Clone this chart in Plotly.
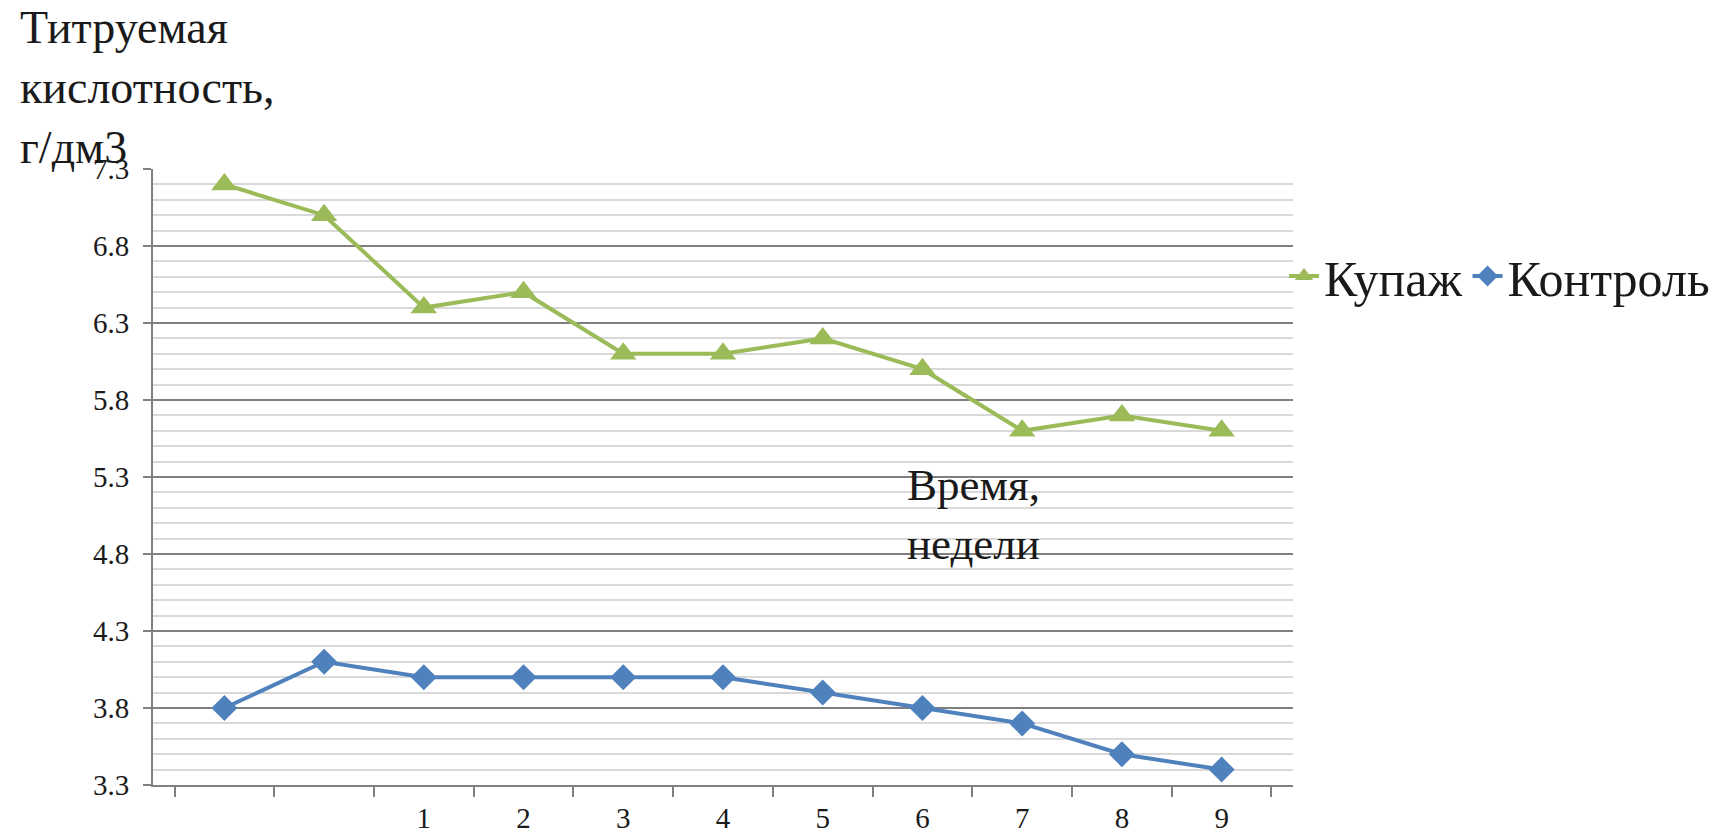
import plotly.graph_objects as go

categories = [" ", "  ", "1", "2", "3", "4", "5", "6", "7", "8", "9"]
kupazh = [7.2, 7.0, 6.4, 6.5, 6.1, 6.1, 6.2, 6.0, 5.6, 5.7, 5.6]
kontrol = [3.8, 4.1, 4.0, 4.0, 4.0, 4.0, 3.9, 3.8, 3.7, 3.5, 3.4]
y_ticks = [3.3, 3.8, 4.3, 4.8, 5.3, 5.8, 6.3, 6.8, 7.3]
y_title = "Титруемая<br>кислотность,<br>г/дм3"
x_title = "Время,<br>недели"

W, H = 1715, 834
L, R, T, B = 153, 1293, 169, 785

FONT = "Liberation Serif, Times New Roman, DejaVu Serif, serif"
GREEN = "#9BBB59"
BLUE = "#4F81BD"
TXT = "#1a1a1a"

fig = go.Figure()
fig.add_trace(go.Scatter(
    x=categories, y=kupazh, name="Купаж", mode="lines+markers",
    line=dict(color=GREEN, width=4),
    marker=dict(symbol="triangle-up", size=23, color=GREEN),
))
fig.add_trace(go.Scatter(
    x=categories, y=kontrol, name="Контроль", mode="lines+markers",
    line=dict(color=BLUE, width=4),
    marker=dict(symbol="diamond", size=20, color=BLUE),
))

def px_x(x):
    return (x - L) / (R - L)

def px_y(y):
    return (B - y) / (B - T)

fig.update_layout(
    template="none",
    width=W, height=H, autosize=False,
    margin=dict(l=L, r=W - R, t=T, b=H - B, pad=0, autoexpand=False),
    paper_bgcolor="white", plot_bgcolor="white",
    font=dict(family=FONT, color=TXT, size=29),
    showlegend=True,
    legend=dict(
        orientation="h", x=px_x(1284), xanchor="left",
        y=px_y(276), yanchor="middle",
        font=dict(family=FONT, size=50, color=TXT),
        itemwidth=30, tracegroupgap=0, bgcolor="rgba(0,0,0,0)",
    ),
    xaxis=dict(
        type="category", categoryorder="array", categoryarray=categories,
        automargin=False,
        tickson="boundaries", ticks="outside", ticklen=10, tickwidth=2,
        tickcolor="#7f7f7f", showline=True, linecolor="#7f7f7f", linewidth=2,
        showgrid=False, zeroline=False,
        tickfont=dict(family=FONT, size=29, color=TXT),
        ticklabelstandoff=6,
    ),
    yaxis=dict(
        range=[3.3, 7.3], tickmode="array", tickvals=y_ticks,
        ticktext=[f"{v:.1f}" for v in y_ticks],
        automargin=False,
        ticks="outside", ticklen=8, tickwidth=2, tickcolor="#7f7f7f",
        showline=True, linecolor="#7f7f7f", linewidth=2,
        showgrid=True, gridcolor="#7f7f7f", gridwidth=2, zeroline=False,
        tickfont=dict(family=FONT, size=29, color=TXT),
        ticklabelstandoff=8,
        minor=dict(tickmode="linear", tick0=3.3, dtick=0.1, showgrid=True,
                   gridcolor="#d9d9d9", gridwidth=2, ticks=""),
    ),
    annotations=[
        dict(text=y_title, xref="paper", yref="paper", x=px_x(18), y=px_y(0),
             xanchor="left", yanchor="top", align="left", showarrow=False,
             font=dict(family=FONT, size=46, color=TXT)),
        dict(text=x_title, xref="paper", yref="paper", x=px_x(905), y=px_y(514),
             xanchor="left", yanchor="middle", align="left", showarrow=False,
             font=dict(family=FONT, size=45, color=TXT)),
    ],
)

fig.write_html("out.html", config={"displayModeBar": False},
               post_script="document.body.style.margin='0';")
